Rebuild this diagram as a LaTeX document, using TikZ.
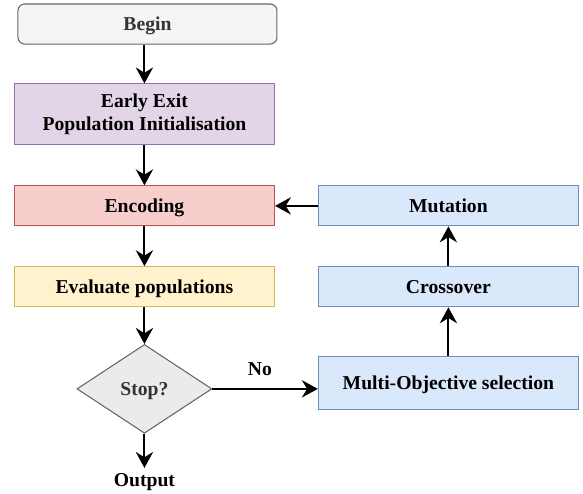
\documentclass[tikz,border=0pt]{standalone}
\usepackage{fontspec}
\setmainfont{Liberation Serif}
\usetikzlibrary{arrows.meta, positioning, shapes.geometric}
\definecolor{beginFill}{HTML}{F5F5F5}
\definecolor{grayLine}{HTML}{666666}
\definecolor{grayText}{HTML}{333333}
\definecolor{stopFill}{HTML}{EBEBEB}
\definecolor{initFill}{HTML}{E1D5E7}
\definecolor{initLine}{HTML}{9673A6}
\definecolor{encFill}{HTML}{F8CECC}
\definecolor{encLine}{HTML}{B85450}
\definecolor{evalFill}{HTML}{FFF2CC}
\definecolor{evalLine}{HTML}{D6B656}
\definecolor{opFill}{HTML}{DAE8FC}
\definecolor{opLine}{HTML}{6C8EBF}

\begin{document}
\begin{tikzpicture}[auto, >={Stealth[length=12pt, width=13pt, inset=4pt]}, line width=1.5pt,
    font=\fontsize{14.8}{17}\selectfont\bfseries]
        % Estilos para los bloques y la decisión
        \tikzstyle{box} = [draw, rectangle, line width=0.8pt, minimum height=1.06cm, minimum width=6.88cm, align=center]
        \tikzstyle{block} = [box, text height=10pt, text depth=0pt]
        \tikzstyle{startblock} = [block, rounded corners=5pt, fill=beginFill, draw=grayLine, text=grayText, minimum width=6.85cm]
        \tikzstyle{decision} = [draw=grayLine, fill=stopFill, text=grayText, diamond, line width=0.8pt, inner sep=0pt, minimum width=3.57cm, minimum height=2.35cm, text height=10pt, text depth=0pt]

        \useasboundingbox (-3.82,0.635) rectangle (11.60,-12.41);

        % Nodes
        \node at (0.08,0) [startblock] (begin) {Begin};
        \node at (0,-2.38) [box, fill=initFill, draw=initLine, minimum height=1.59cm] (init) {Early Exit\\Population Initialisation};
        \node [block, on grid, fill=encFill, draw=encLine, below=2.43cm of init] (encoding) {Encoding};
        \node [block, on grid, fill=evalFill, draw=evalLine, below=2.14cm of encoding] (evaluate) {Evaluate populations};
        \node [decision, on grid, below=2.70cm of evaluate] (stop) {Stop?};
        \node [on grid, text height=10pt, text depth=0pt, below=2.41cm of stop] (output) {Output};
        \node [block, on grid, fill=opFill, draw=opLine, right=8.04cm of encoding] (mutation) {Mutation};
        \node [block, on grid, fill=opFill, draw=opLine, below=2.14cm of mutation] (crossover) {Crossover};
        \node [block, on grid, fill=opFill, draw=opLine, minimum height=1.40cm, below=2.54cm of crossover] (selection) {Multi-Objective selection};

        % Lines
        \draw [->] (begin.south -| init.north) -- (init);
        \draw [->] (init) -- (encoding);
        \draw [->] (encoding) -- (evaluate);
        \draw [->] (evaluate) -- (stop);
        \draw [->] (stop) -- (output);
        \draw [->] (stop.east) -- node[above=6pt, pos=0.45] {No} (stop.east -| selection.west);
        \draw [->] (selection) -- (crossover);
        \draw [->] (crossover) -- (mutation);
        \draw [->] (mutation) -- (encoding);

      \end{tikzpicture}
\end{document}
